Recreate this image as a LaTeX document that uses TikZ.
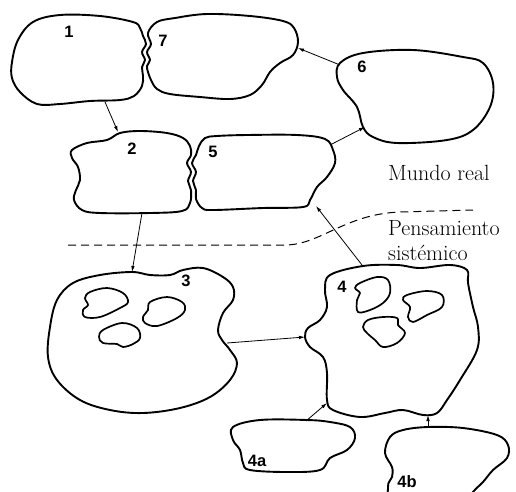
\documentclass[tikz,border=0pt]{standalone}
\usepackage{fontspec}
\usepackage{tikz}
\usetikzlibrary{arrows.meta}
\newfontfamily\numfont{Liberation Sans}
\tikzset{blob/.style={line width=1.9pt,line join=round,smooth cycle,tension=0.6},}
\tikzset{hole/.style={line width=1.7pt,line join=round,smooth cycle,tension=0.6},}
\tikzset{num label/.style={font=\numfont\bfseries\fontsize{16.5}{18}\selectfont,inner sep=0pt},}
\tikzset{side text/.style={font=\fontsize{22}{25}\selectfont,inner sep=0pt,anchor=base west},}
\tikzset{flow arrow/.style={-{Latex[length=6pt,width=3.6pt]},line width=0.8pt},}
\tikzset{border line/.style={dash pattern=on 8pt off 5pt,line width=1pt},}

\begin{document}
\begin{tikzpicture}[x=1pt,y=-1pt]
       \useasboundingbox (0,0) rectangle (516,491);

       % blobs of the real world
       \draw[blob] plot coordinates {(12,62) (18,40) (33,22) (60,15) (100,16) (133,22) (140,28) (143,36) (146,44) (142,52) (145,60) (142,67) (143,76) (142,86) (134,96) (120,100) (90,101) (60,104) (37,104) (20,92) (12,78)};
       \draw[blob] plot coordinates {(148,33) (157,22) (175,18) (207,14) (250,16) (283,21) (294,28) (298,42) (293,55) (280,63) (270,72) (262,85) (250,95) (230,99) (200,97) (170,94) (157,89) (151,80) (148,72) (147,66) (150,60) (147,52) (151,44)};
       \draw[blob] plot coordinates {(72,150) (87,143) (107,140) (120,133) (140,131) (167,133) (183,138) (190,146) (191,155) (187,163) (191,172) (188,181) (191,190) (190,203) (182,211) (150,213) (100,213) (82,210) (74,200) (76,190) (80,180) (78,167) (72,158)};
       \draw[blob] plot coordinates {(205,138) (217,136) (247,135) (297,135) (325,139) (333,150) (335,163) (327,177) (317,187) (310,200) (303,207) (263,208) (213,210) (202,208) (196,199) (196,190) (193,181) (196,172) (192,163) (196,155) (199,146)};
       \draw[blob] plot coordinates {(340,63) (363,53) (413,50) (463,57) (483,63) (493,83) (490,107) (473,130) (447,140) (397,143) (373,137) (363,127) (357,107) (343,90) (337,77)};

       % blobs of systems thinking
       \draw[blob] plot coordinates {(132,272) (100,275) (73,283) (57,300) (50,327) (48,357) (57,380) (80,400) (110,410) (143,413) (180,408) (210,397) (230,380) (237,363) (230,350) (222,340) (218,330) (223,313) (233,300) (233,287) (223,277) (203,268) (183,270) (170,275) (150,275)};
       \draw[hole] plot coordinates {(90,292) (107,288) (123,293) (128,302) (120,308) (100,317) (85,317) (83,310) (88,305) (85,298)};
       \draw[hole] plot coordinates {(150,302) (167,297) (182,302) (185,310) (177,318) (157,326) (145,323) (143,317) (148,310)};
       \draw[hole] plot coordinates {(103,330) (122,323) (137,328) (140,338) (133,344) (123,347) (117,344) (103,343) (99,337)};

       \draw[blob] plot coordinates {(363,266) (330,275) (325,290) (327,307) (320,320) (308,328) (305,337) (310,347) (323,357) (327,373) (327,400) (333,410) (360,417) (385,413) (403,410) (423,415) (437,413) (447,400) (460,380) (477,350) (478,327) (473,307) (468,283) (467,270) (450,265) (420,268) (397,265)};
       \draw[hole] plot coordinates {(360,283) (377,277) (388,280) (390,293) (383,303) (370,310) (358,312) (357,300) (360,293) (355,288)};
       \draw[hole] plot coordinates {(407,295) (427,291) (442,295) (442,307) (427,315) (413,322) (408,317) (410,307) (403,300)};
       \draw[hole] plot coordinates {(368,320) (383,317) (397,318) (398,325) (405,333) (397,343) (383,347) (375,340) (367,333) (363,327)};

       \draw[blob] plot coordinates {(233,427) (260,420) (307,420) (330,422) (350,427) (355,438) (347,450) (330,458) (320,470) (287,472) (250,470) (243,463) (240,450) (233,440)};
       \draw[blob] plot coordinates {(390,437) (403,430) (428,427) (463,428) (497,435) (508,445) (507,458) (493,470) (483,482) (473,492) (460,510) (395,510) (388,487) (392,477) (392,467) (385,453)};

       % numbers
       \node[num label] (n1) at (69,32) {1};
       \node[num label] (n7) at (163,41) {7};
       \node[num label] (n2) at (132,149) {2};
       \node[num label] (n5) at (213,152) {5};
       \node[num label] (n6) at (362,67) {6};
       \node[num label] (n3) at (186,281) {3};
       \node[num label] (n4) at (342,287) {4};
       \node[num label] (n4a) at (257,461) {4a};
       \node[num label] (n4b) at (407,482) {4b};

       % side texts and border
       \node[side text] (real) at (388,180) {Mundo real};
       \node[side text] (pens) at (388,235) {Pensamiento};
       \node[side text] (sist) at (388,260) {sistémico};
       \draw[border line] (68,245) -- (285,245) .. controls (320,245) and (345,214) .. (400,212) -- (473,210);

       % arrow ends
       \coordinate (o1) at (105,102);
       \coordinate (i2) at (118,132);
       \coordinate (o2) at (142,213);
       \coordinate (i3) at (132,272);
       \coordinate (o3) at (227,343);
       \coordinate (i4) at (305,337);
       \coordinate (o4) at (362,265);
       \coordinate (i5) at (316,206);
       \coordinate (o5) at (330,145);
       \coordinate (i6) at (365,127);
       \coordinate (o6) at (340,65);
       \coordinate (i7) at (298,48);
       \coordinate (o4a) at (306,421);
       \coordinate (i4a) at (327,403);
       \coordinate (o4b) at (428,427);
       \coordinate (i4b) at (428,415);

       \draw[flow arrow] (o1) -- (i2);
       \draw[flow arrow] (o2) -- (i3);
       \draw[flow arrow] (o3) -- (i4);
       \draw[flow arrow] (o4) -- (i5);
       \draw[flow arrow] (o5) -- (i6);
       \draw[flow arrow] (o6) -- (i7);
       \draw[flow arrow] (o4a) -- (i4a);
       \draw[flow arrow] (o4b) -- (i4b);
    \end{tikzpicture}
\end{document}
